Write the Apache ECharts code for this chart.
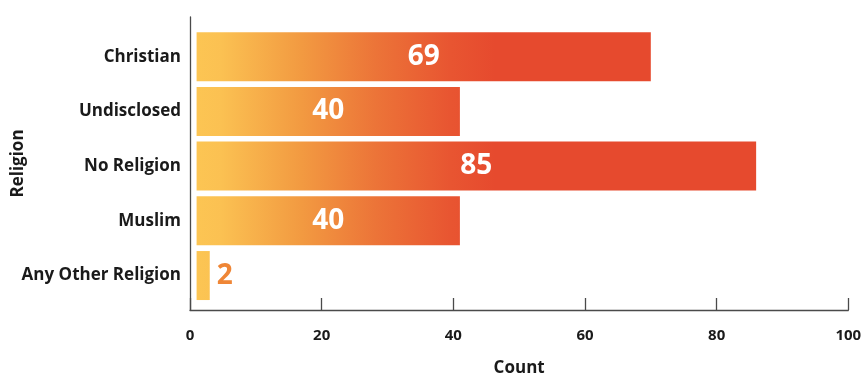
<!DOCTYPE html>
<html>
<head>
<meta charset="utf-8">
<title>Religion count</title>
<script src="https://cdn.jsdelivr.net/npm/echarts@6/dist/echarts.min.js"></script>
<style>
  html, body { margin: 0; padding: 0; background: #ffffff; }
  #chart { width: 864px; height: 374px; }
</style>
</head>
<body>
<div id="chart"></div>
<script>
// Categories, top to bottom
const religions = ['Christian', 'Undisclosed', 'No Religion', 'Muslim', 'Any Other Religion'];
// Respondent counts per religion
const counts = [69, 40, 85, 40, 2];
// Each bar begins one unit past the axis
const barStart = [1, 1, 1, 1, 1];
// Count axis ticks
const countTicks = [0, 20, 40, 60, 80, 100];

const FONT = '"Open Sans", "Liberation Sans", sans-serif';
const TEXT = '#1a1a1a';
const AXIS = '#4a4a4a';

const chart = echarts.init(document.getElementById('chart'), null, { renderer: 'canvas' });

// Horizontal yellow-to-red fill shared across all bars (pixel coordinates)
const barFill = {
  type: 'linear', x: 197, y: 0, x2: 495, y2: 0, global: true,
  colorStops: [
    { offset: 0.00, color: '#fcc553' },
    { offset: 0.08, color: '#fbc152' },
    { offset: 0.35, color: '#f29a41' },
    { offset: 0.60, color: '#ec7438' },
    { offset: 0.85, color: '#e85531' },
    { offset: 1.00, color: '#e64a2e' }
  ]
};

const valueData = counts.map(v => {
  const small = v < 10;
  return {
    value: v,
    label: small
      ? { position: 'right', distance: 7, color: '#ef8636' }
      : { position: 'inside', color: '#ffffff' }
  };
});

chart.setOption({
  animation: false,
  backgroundColor: '#ffffff',
  grid: [
    { left: 190, right: 15.7, top: 29.3, bottom: 71.1, outerBoundsMode: 'none', containLabel: false },
    { left: 190, right: 15.7, top: 17, bottom: 64, outerBoundsMode: 'none', containLabel: false }
  ],
  xAxis: [
    {
      gridIndex: 0, type: 'value', min: 0, max: 100, interval: 20,
      show: false
    },
    {
      gridIndex: 1, type: 'value', min: countTicks[0], max: countTicks[countTicks.length - 1], interval: 20,
      name: 'Count', nameLocation: 'middle', nameGap: 50,
      nameTextStyle: { fontFamily: FONT, fontWeight: 'bold', fontSize: 17, color: TEXT },
      axisLine: { show: true, lineStyle: { color: AXIS, width: 1.3 } },
      axisTick: { show: true, inside: true, length: 12, lineStyle: { color: AXIS, width: 1.3 } },
      axisLabel: { fontFamily: FONT, fontWeight: 'bold', fontSize: 15, color: TEXT, margin: 18 },
      splitLine: { show: false }
    }
  ],
  yAxis: [
    {
      gridIndex: 0, type: 'category', data: religions, inverse: true,
      axisLine: { show: false }, axisTick: { show: false },
      axisLabel: { fontFamily: FONT, fontWeight: 'bold', fontSize: 17, color: TEXT, margin: 9 }
    },
    {
      gridIndex: 1, type: 'value', min: 0, max: 1,
      name: 'Religion', nameLocation: 'middle', nameGap: 163, nameRotate: 90,
      nameTextStyle: { fontFamily: FONT, fontWeight: 'bold', fontSize: 17, color: TEXT },
      axisLine: { show: true, lineStyle: { color: AXIS, width: 1.3 } },
      axisTick: { show: false }, axisLabel: { show: false }, splitLine: { show: false }
    }
  ],
  series: [
    {
      type: 'bar', name: 'start', stack: 'religion',
      xAxisIndex: 0, yAxisIndex: 0,
      data: barStart, barWidth: 49, silent: true,
      itemStyle: { color: 'rgba(0,0,0,0)' }
    },
    {
      type: 'bar', name: 'Count', stack: 'religion',
      xAxisIndex: 0, yAxisIndex: 0,
      data: valueData, barWidth: 49,
      itemStyle: { color: barFill },
      label: {
        show: true, fontFamily: FONT, fontWeight: 'bold', fontSize: 28
      }
    }
  ]
});
</script>
</body>
</html>
